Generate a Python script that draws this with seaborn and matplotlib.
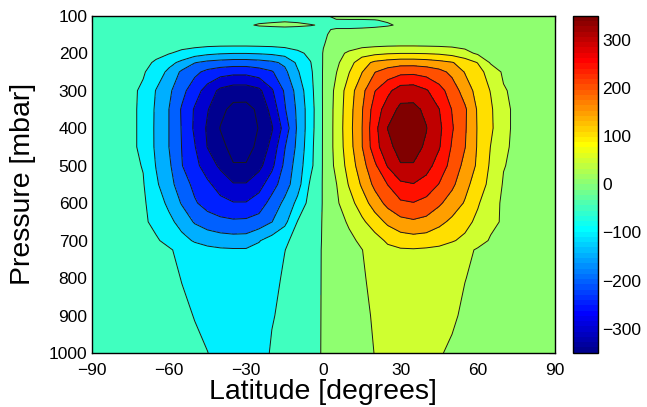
import numpy as np
import matplotlib
matplotlib.use("Agg")
import matplotlib.pyplot as plt
from matplotlib.colors import ListedColormap, Normalize
from matplotlib.cm import ScalarMappable
import seaborn as sns

# Grid of the zonal-mean meridional streamfunction
latitude = [-90, -80, -75, -70, -65, -60, -55, -50, -45, -40, -35, -30, -25, -20, -15, -10, -5, 0,
            5, 10, 15, 20, 25, 30, 35, 40, 45, 50, 55, 60, 65, 70, 75, 80, 90]
pressure = [100, 112, 125, 137, 150, 175, 200, 225, 250, 300, 350, 400, 450, 500,
            550, 600, 650, 700, 725, 800, 900, 1000]

# one row per pressure level: southern part (-90..0) then northern part (5..90)
psi_100 = [-18, -18, -18, -18, -17, -17, -16, -15, -14, -13, -12, -12, -11, -11, -10, -10, -9, -5,
           8, 10, 10, 10, 12, 15, 17, 18, 19, 20, 20, 20, 20, 20, 20, 20, 20]
psi_112 = [-20, -20, -20, -20, -19, -18, -17, -15, -14, -12, -10, -8, -5, -4, -3, -4, -6, -8,
           -2, -2, -2, -1, 3, 8, 12, 14, 15, 16, 17, 18, 18, 18, 18, 18, 18]
psi_125 = [-20, -20, -20, -18, -17, -15, -14, -12, -10, -8, -6, -3, 2, 4, 6, 4, 1, -2,
           -10, -10, -8, -6, -3, 4, 10, 13, 15, 16, 17, 18, 18, 18, 18, 18, 18]
psi_137 = [-20, -20, -20, -20, -19, -18, -17, -16, -14, -12, -11, -10, -8, -8, -8, -8, -6, -4,
           3, 3, 4, 6, 10, 14, 16, 17, 18, 18, 18, 18, 18, 18, 18, 18, 18]
psi_150 = [-18, -20, -21, -22, -23, -24, -25, -26, -27, -28, -28, -28, -27, -26, -22, -15, -9, -4,
           8, 15, 20, 23, 26, 28, 28, 28, 27, 26, 25, 24, 23, 22, 21, 20, 18]
psi_175 = [-18, -20, -21, -22, -24, -27, -30, -32, -34, -35, -35, -35, -34, -33, -30, -23, -13, -2,
           15, 24, 30, 33, 35, 36, 36, 35, 34, 33, 31, 28, 26, 24, 22, 21, 20]
psi_200 = [-20, -25, -28, -32, -38, -47, -62, -75, -88, -95, -98, -98, -95, -90, -80, -62, -38, 2,
           35, 58, 78, 88, 95, 98, 98, 96, 92, 82, 65, 42, 34, 30, 27, 25, 22]
psi_225 = [-20, -27, -32, -38, -56, -85, -112, -148, -163, -170, -175, -175, -170, -160, -140, -90, -52, 3,
           40, 80, 130, 160, 172, 180, 180, 175, 165, 153, 128, 98, 45, 38, 32, 27, 22]
psi_250 = [-20, -28, -35, -45, -74, -111, -159, -188, -213, -228, -235, -235, -222, -205, -162, -105, -59, 4,
           48, 98, 148, 198, 222, 236, 238, 230, 215, 188, 147, 119, 78, 43, 34, 28, 22]
psi_300 = [-20, -30, -40, -58, -102, -140, -185, -228, -271, -312, -328, -328, -312, -256, -194, -131, -66, 5,
           62, 125, 185, 248, 288, 325, 328, 305, 268, 227, 178, 132, 98, 54, 40, 32, 22]
psi_350 = [-20, -28, -38, -62, -107, -150, -205, -255, -297, -338, -363, -364, -342, -283, -205, -140, -72, 5,
           65, 130, 196, 273, 324, 362, 362, 340, 301, 248, 208, 144, 107, 62, 40, 30, 22]
psi_400 = [-20, -28, -38, -62, -108, -150, -203, -258, -307, -352, -372, -372, -348, -305, -230, -142, -71, 5,
           66, 133, 199, 285, 351, 373, 373, 352, 311, 255, 206, 146, 109, 62, 40, 30, 22]
psi_450 = [-20, -30, -40, -60, -108, -150, -201, -247, -302, -337, -365, -365, -340, -284, -203, -138, -66, 5,
           66, 129, 198, 279, 338, 366, 366, 343, 304, 245, 202, 145, 99, 58, 40, 32, 22]
psi_500 = [-20, -30, -40, -52, -102, -141, -198, -237, -272, -310, -347, -347, -315, -262, -189, -126, -63, 5,
           62, 119, 180, 241, 304, 347, 347, 320, 277, 234, 185, 142, 93, 52, 40, 32, 22]
psi_550 = [-20, -30, -40, -47, -92, -133, -175, -213, -242, -268, -296, -296, -268, -223, -172, -120, -42, 4,
           48, 104, 157, 213, 251, 290, 298, 280, 248, 211, 165, 126, 86, 46, 40, 32, 22]
psi_600 = [-20, -30, -38, -43, -75, -111, -154, -194, -220, -238, -247, -247, -228, -180, -139, -87, -31, 3,
           42, 80, 126, 173, 215, 242, 248, 235, 208, 176, 146, 105, 70, 42, 38, 31, 22]
psi_650 = [-20, -30, -37, -43, -61, -87, -118, -155, -175, -186, -192, -190, -178, -151, -113, -48, -22, 3,
           28, 57, 90, 126, 160, 185, 193, 185, 162, 140, 115, 89, 62, 44, 37, 30, 22]
psi_700 = [-20, -30, -36, -40, -45, -62, -85, -105, -117, -125, -128, -127, -103, -80, -58, -35, -18, 3,
           18, 38, 60, 80, 108, 122, 128, 125, 118, 104, 90, 70, 45, 40, 36, 30, 22]
psi_725 = [-20, -28, -33, -36, -39, -45, -62, -78, -88, -93, -95, -95, -88, -70, -51, -30, -15, 3,
           15, 30, 49, 70, 88, 95, 96, 93, 88, 78, 64, 44, 39, 36, 33, 29, 22]
psi_800 = [-20, -28, -31, -34, -37, -42, -51, -68, -80, -86, -88, -88, -82, -67, -42, -27, -14, 3,
           14, 27, 43, 66, 80, 87, 88, 86, 80, 70, 51, 42, 37, 34, 31, 28, 22]
psi_900 = [-20, -27, -30, -33, -36, -39, -44, -51, -68, -80, -83, -83, -76, -53, -40, -25, -13, 3,
           13, 25, 38, 56, 75, 82, 83, 80, 70, 56, 43, 38, 35, 33, 30, 27, 22]
psi_1000 = [-20, -26, -29, -32, -35, -38, -41, -44, -49, -68, -77, -78, -70, -45, -35, -24, -12, 3,
            12, 23, 36, 51, 70, 77, 78, 72, 53, 44, 40, 37, 34, 32, 29, 26, 22]

contour_levels = [-350, -300, -250, -200, -150, -100, -50, 0, 50, 100, 150, 200, 250, 300, 350]
colorbar_ticks = [-300, -200, -100, 0, 100, 200, 300]
lat_ticks = [-90, -60, -30, 0, 30, 60, 90]
pressure_ticks = [100, 200, 300, 400, 500, 600, 700, 800, 900, 1000]
color_limits = (-350, 350)

psi = np.array([psi_100, psi_112, psi_125, psi_137, psi_150, psi_175, psi_200, psi_225,
                psi_250, psi_300, psi_350, psi_400, psi_450, psi_500, psi_550, psi_600,
                psi_650, psi_700, psi_725, psi_800, psi_900, psi_1000], dtype=float)


def jet_table(m=64):
    """Classic 64-entry jet colour table."""
    n = int(np.ceil(m / 4))
    u = np.concatenate([np.arange(1, n + 1) / n, np.ones(n - 1), np.arange(n, 0, -1) / n])
    g = int(np.ceil(n / 2)) - (1 if m % 4 == 1 else 0) + np.arange(1, len(u) + 1)
    table = np.zeros((m, 3))
    for ch, idx in enumerate([g + n, g, g - n]):
        ok = (idx >= 1) & (idx <= m)
        table[idx[ok] - 1, ch] = u[ok]
    return table


sns.set_theme(style="white")
plt.rcParams["font.family"] = ["Liberation Sans", "DejaVu Sans"]
plt.rcParams["text.color"] = "black"
plt.rcParams["axes.labelcolor"] = "black"
plt.rcParams["contour.negative_linestyle"] = "solid"

jet = jet_table(64)
cmin, cmax = color_limits


def level_color(v):
    k = int(np.floor((v - cmin) / (cmax - cmin) * 64))
    return tuple(jet[min(max(k, 0), 63)])


fill_levels = [-1000] + contour_levels + [1000]
band_colors = [level_color(contour_levels[0])] + [level_color(v) for v in contour_levels]

fig = plt.figure(figsize=(6.47, 4.07), dpi=100)
ax = fig.add_axes([0.1417, 0.1327, 0.7161, 0.8287])

ax.contourf(latitude, pressure, psi, levels=fill_levels, colors=band_colors)
ax.contour(latitude, pressure, psi, levels=contour_levels, colors="k",
           linewidths=0.7, linestyles="solid")

ax.set_xlim(-90, 90)
ax.set_ylim(1000, 100)
ax.set_xticks(lat_ticks)
ax.set_yticks(pressure_ticks)
ax.tick_params(direction="in", top=True, right=True, length=4, width=0.8,
               labelsize=12.5, colors="black")
ax.tick_params(axis="x", pad=7)
ax.tick_params(axis="y", pad=3)
for s in ax.spines.values():
    s.set_color("black")
    s.set_linewidth(1.0)
ax.set_xlabel("Latitude [degrees]", fontsize=20.5, labelpad=1, color="black")
ax.set_ylabel("Pressure [mbar]", fontsize=20.5, labelpad=9, color="black")

cax = fig.add_axes([0.886, 0.1334, 0.0386, 0.8275])
sm = ScalarMappable(norm=Normalize(cmin, cmax), cmap=ListedColormap(jet))
cb = fig.colorbar(sm, cax=cax, ticks=colorbar_ticks)
cb.outline.set_edgecolor("black")
cb.outline.set_linewidth(1.0)
cax.tick_params(direction="in", left=True, right=True, length=4, width=0.8,
                labelsize=12.5, pad=3, colors="black")

fig.savefig("out.png", dpi=100, facecolor="white")
